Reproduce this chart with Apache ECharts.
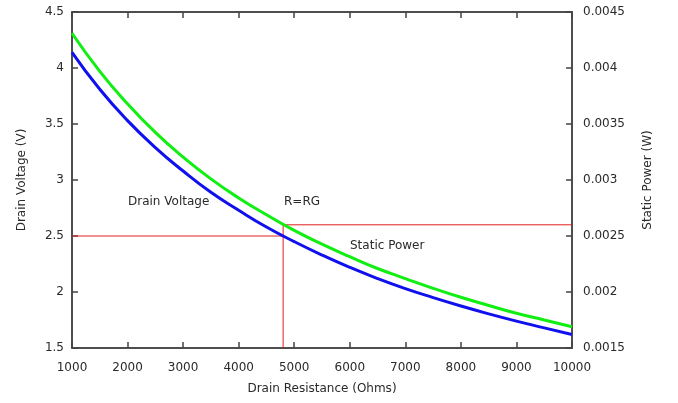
<!DOCTYPE html>
<html><head><meta charset="utf-8">
<script src="https://cdn.jsdelivr.net/npm/echarts@6/dist/echarts.min.js"></script>
<style>html,body{margin:0;padding:0;background:#fff}#c{width:678px;height:403px}</style>
</head><body><div id="c"></div>
<script>
const resistance = [1000,1500,2000,2500,3000,3500,4000,4500,5000,5500,6000,6500,7000,7500,8000,8500,9000,9500,10000];
const drainVoltage = [4.14,3.81,3.53,3.29,3.08,2.89,2.73,2.58,2.45,2.33,2.22,2.12,2.03,1.95,1.875,1.805,1.74,1.68,1.62];
const staticPower = [0.00431,0.00397,0.00368,0.003425,0.003205,0.00301,0.00284,0.00269,0.00255,0.002427,0.002315,0.00221,0.00212,0.002033,0.001953,0.00188,0.00181,0.00175,0.00169];
const rg = 4800, vAtRg = 2.5, pAtRg = 0.0026;
const xTicks = {min:1000, max:10000, step:1000};
const vTicks = {min:1.5, max:4.5, step:0.5};
const pTicks = {min:0.0015, max:0.0045, step:0.0005};

const font = 'DejaVu Sans';
const txt = {color:'#2a2a2a', fontFamily:font, fontSize:12};
const axisLine = {show:true, lineStyle:{color:'#444', width:1.5}};
const tick = {show:true, inside:true, length:6, lineStyle:{color:'#444', width:1.5}};
const fmt = v => String(Math.round(v*10000)/10000);

const chart = echarts.init(document.getElementById('c'));
chart.setOption({
  animation:false,
  grid:{left:72, right:106, top:12, bottom:55, show:true, borderColor:'#444', borderWidth:1.5},
  xAxis:[
    {type:'value', min:xTicks.min, max:xTicks.max, interval:xTicks.step, position:'bottom',
     name:'Drain Resistance (Ohms)', nameLocation:'middle', nameGap:35, nameTextStyle:txt,
     axisLine, axisTick:tick, splitLine:{show:false}, axisLabel:Object.assign({margin:14, formatter:v=>String(v)}, txt)},
    {type:'value', min:xTicks.min, max:xTicks.max, interval:xTicks.step, position:'top',
     axisLine, axisTick:tick, splitLine:{show:false}, axisLabel:{show:false}}
  ],
  yAxis:[
    {type:'value', min:vTicks.min, max:vTicks.max, interval:vTicks.step, position:'left',
     name:'Drain Voltage (V)', nameLocation:'middle', nameGap:44, nameTextStyle:txt,
     axisLine, axisTick:tick, splitLine:{show:false}, axisLabel:Object.assign({margin:8, formatter:fmt}, txt)},
    {type:'value', min:pTicks.min, max:pTicks.max, interval:pTicks.step, position:'right',
     name:'Static Power (W)', nameLocation:'middle', nameGap:70, nameRotate:90, nameTextStyle:txt,
     axisLine, axisTick:tick, splitLine:{show:false}, axisLabel:Object.assign({margin:11, formatter:fmt}, txt)}
  ],
  series:[
    {type:'line', xAxisIndex:0, yAxisIndex:0, data:[[xTicks.min,vAtRg],[rg,vAtRg]], showSymbol:false, lineStyle:{color:'#e02020', width:1}, silent:true},
    {type:'line', xAxisIndex:0, yAxisIndex:1, data:[[rg,pTicks.min],[rg,pAtRg],[xTicks.max,pAtRg]], showSymbol:false, lineStyle:{color:'#e02020', width:1}, silent:true},
    {type:'line', xAxisIndex:0, yAxisIndex:1, data:resistance.map((r,i)=>[r,staticPower[i]]), smooth:true, showSymbol:false, lineStyle:{color:'#11ee11', width:3}},
    {type:'line', xAxisIndex:0, yAxisIndex:0, data:resistance.map((r,i)=>[r,drainVoltage[i]]), smooth:true, showSymbol:false, lineStyle:{color:'#1010ee', width:3}}
  ],
  graphic:[
    {type:'text', left:128, top:196, style:{text:'Drain Voltage', fill:'#2a2a2a', font:'12px "DejaVu Sans"'}},
    {type:'text', left:284, top:196, style:{text:'R=RG', fill:'#2a2a2a', font:'12px "DejaVu Sans"'}},
    {type:'text', left:350, top:240, style:{text:'Static Power', fill:'#2a2a2a', font:'12px "DejaVu Sans"'}}
  ]
});
</script></body></html>
